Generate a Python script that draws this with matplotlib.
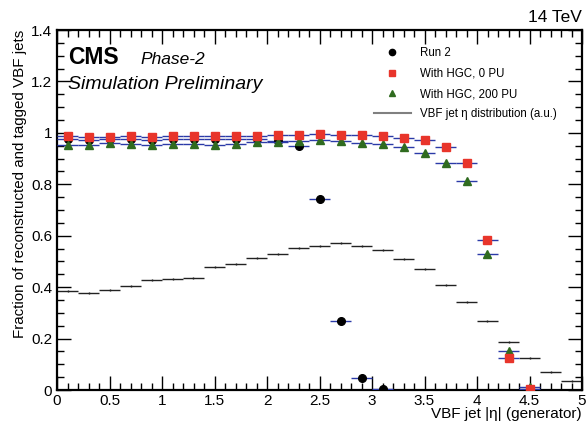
import matplotlib
matplotlib.use("Agg")
import matplotlib.pyplot as plt
from matplotlib.lines import Line2D
from matplotlib.ticker import MultipleLocator
import numpy as np

plt.rcParams['font.family'] = ['Liberation Sans', 'DejaVu Sans']

# ---- data ----
bin_edges = [0.0, 0.2, 0.4, 0.6, 0.8, 1.0, 1.2, 1.4, 1.6, 1.8, 2.0, 2.2, 2.4,
             2.6, 2.8, 3.0, 3.2, 3.4, 3.6, 3.8, 4.0, 4.2, 4.4, 4.6, 4.8, 5.0]

eta_dist = [0.386, 0.379, 0.390, 0.405, 0.428, 0.431, 0.435, 0.477, 0.490,
            0.512, 0.530, 0.551, 0.561, 0.571, 0.561, 0.545, 0.510, 0.471,
            0.407, 0.341, 0.268, 0.188, 0.123, 0.070, 0.036]

run2_eta = [0.1, 0.3, 0.5, 0.7, 0.9, 1.1, 1.3, 1.5, 1.7, 1.9, 2.1, 2.3, 2.5,
            2.7, 2.9, 3.1]
run2_eff = [0.975, 0.972, 0.976, 0.978, 0.974, 0.977, 0.978, 0.977, 0.976,
            0.975, 0.969, 0.949, 0.743, 0.268, 0.046, 0.002]

hgc_eta = [0.1, 0.3, 0.5, 0.7, 0.9, 1.1, 1.3, 1.5, 1.7, 1.9, 2.1, 2.3, 2.5,
           2.7, 2.9, 3.1, 3.3, 3.5, 3.7, 3.9, 4.1, 4.3, 4.5]
hgc0_eff = [0.986, 0.982, 0.984, 0.988, 0.982, 0.986, 0.987, 0.987, 0.987,
            0.989, 0.992, 0.991, 0.995, 0.992, 0.991, 0.987, 0.979, 0.973,
            0.946, 0.882, 0.582, 0.126, 0.003]
hgc200_eff = [0.952, 0.952, 0.960, 0.956, 0.952, 0.956, 0.955, 0.952, 0.956,
              0.966, 0.966, 0.969, 0.972, 0.968, 0.962, 0.958, 0.946, 0.921,
              0.881, 0.813, 0.528, 0.150, 0.012]

labels = ["Run 2", "With HGC, 0 PU", "With HGC, 200 PU",
          "VBF jet η distribution (a.u.)"]

# ---- figure ----
fig = plt.figure(figsize=(5.86, 4.23), dpi=100)
ax = fig.add_axes([57/586, 1 - 390/423, (582 - 57)/586, (390 - 30)/423])

edges = np.array(bin_edges)
centers = 0.5 * (edges[:-1] + edges[1:])
halfw = 0.5 * (edges[1:] - edges[:-1])

blue = '#2b3aa8'
red = '#e8352b'
green = '#2f6b1f'
ax.errorbar(centers, eta_dist, xerr=halfw, yerr=0.004, fmt='none',
            ecolor='#222222', elinewidth=1.0, capsize=0, zorder=2)

ax.errorbar(run2_eta, run2_eff, xerr=0.1, yerr=0.008, fmt='o', color='black',
            ms=5.5, ecolor=blue, elinewidth=1.0, capsize=0, zorder=3)
ax.errorbar(hgc_eta, hgc200_eff, xerr=0.1, yerr=0.008, fmt='^', color=green,
            ms=5.5, ecolor=blue, elinewidth=1.0, capsize=0, zorder=4)
ax.errorbar(hgc_eta, hgc0_eff, xerr=0.1, yerr=0.008, fmt='s', color=red,
            ms=5.2, ecolor=blue, elinewidth=1.0, capsize=0, zorder=5)

ax.set_xlim(0, 5)
ax.set_ylim(0, 1.4)
ax.xaxis.set_minor_locator(MultipleLocator(0.1))
ax.yaxis.set_minor_locator(MultipleLocator(0.05))
ax.set_xticks(np.arange(0, 5.01, 0.5))
ax.set_xticklabels(['0', '0.5', '1', '1.5', '2', '2.5', '3', '3.5', '4', '4.5', '5'])
ax.set_yticks(np.arange(0, 1.41, 0.2))
ax.set_yticklabels(['0', '0.2', '0.4', '0.6', '0.8', '1', '1.2', '1.4'])
ax.tick_params(which='both', direction='in', top=True, right=True, labelsize=11,
               width=1.0)
ax.tick_params(which='major', length=10)
ax.tick_params(which='minor', length=5)
ax.tick_params(axis='x', which='major', pad=3)
for s in ax.spines.values():
    s.set_linewidth(1.6)

ax.set_xlabel("VBF jet |η| (generator)", fontsize=11, loc='right', labelpad=-1)
ax.set_ylabel("Fraction of reconstructed and tagged VBF jets", fontsize=10.9,
              loc='top', labelpad=3)

fig.text(68/586, 1 - 64/423, "CMS", fontsize=16.5, fontweight='bold', va='baseline')
fig.text(140/586, 1 - 64/423, "Phase-2", fontsize=12.5, style='italic', va='baseline')
fig.text(68/586, 1 - 89/423, "Simulation Preliminary", fontsize=14,
         style='italic', va='baseline')
fig.text(582/586, 1 - 22/423, "14 TeV", fontsize=12.5, ha='right', va='baseline')

handles = [
    Line2D([], [], ls='none', marker='o', color='black', ms=4.5),
    Line2D([], [], ls='none', marker='s', color=red, ms=4.5),
    Line2D([], [], ls='none', marker='^', color=green, ms=4.5),
    Line2D([], [], color='#808080', lw=1.5),
]
ax.legend(handles, labels, loc='upper left', frameon=False, fontsize=8.3,
          bbox_to_anchor=(374/586, 1 - 47.5/423), bbox_transform=fig.transFigure,
          borderpad=0, handlelength=3.2, handletextpad=0.75, labelspacing=0.72,
          borderaxespad=0)

fig.savefig("out.png", dpi=100)
